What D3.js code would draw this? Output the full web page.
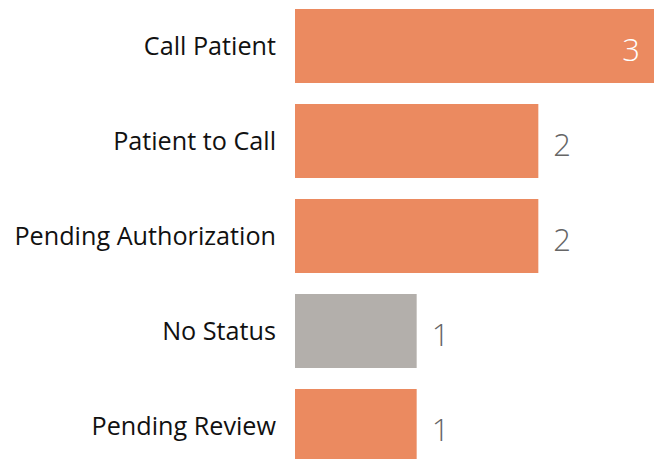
<!DOCTYPE html>
<html lang="en">
<head>
    <meta charset="UTF-8">
    <title>Status Counts</title>
    <style>
        body { margin: 0; background: #fff; }
        svg { display: block; }
        .cat { font-family: "Open Sans", "Noto Sans", sans-serif; fill: #111; }
        .val { font-family: "Open Sans", "Noto Sans", sans-serif; }
    </style>
</head>
<body>
    <svg id="chart" width="654" height="459"></svg>
    <script src="https://d3js.org/d3.v7.min.js"></script>
    <script>
        const categories = ['Call Patient', 'Patient to Call', 'Pending Authorization', 'No Status', 'Pending Review'];
        const counts = [3, 2, 2, 1, 1];
        const barColors = ['#EB8A60', '#EB8A60', '#EB8A60', '#B3AFAB', '#EB8A60'];

        const data = categories.map((c, i) => ({ name: c, value: counts[i], color: barColors[i] }));

        const svg = d3.select('#chart');

        const y = d3.scaleBand()
            .domain(categories)
            .range([9, 463])
            .paddingInner(21 / 95)
            .paddingOuter(0);

        const x = d3.scaleLinear()
            .domain([0, 3])
            .range([295, 660]);

        svg.selectAll('.bar')
            .data(data)
            .join('rect')
            .attr('class', 'bar')
            .attr('x', x(0))
            .attr('y', d => y(d.name))
            .attr('width', d => x(d.value) - x(0))
            .attr('height', y.bandwidth())
            .attr('fill', d => d.color);

        svg.selectAll('.cat')
            .data(data)
            .join('text')
            .attr('class', 'cat')
            .attr('x', 276)
            .attr('y', d => y(d.name) + y.bandwidth() / 2 + 9)
            .attr('text-anchor', 'end')
            .attr('font-size', 25.2)
            .text(d => d.name);

        // biggest bar runs off the edge, so its label sits inside
        const maxVal = d3.max(counts);
        svg.selectAll('.val')
            .data(data)
            .join('text')
            .attr('class', 'val')
            .attr('x', d => d.value === maxVal ? x(d.value) - 20 : x(d.value) + 15)
            .attr('y', d => y(d.name) + y.bandwidth() / 2 + 15)
            .attr('text-anchor', d => d.value === maxVal ? 'end' : 'start')
            .attr('font-size', 31)
            .attr('font-weight', 300)
            .attr('fill', d => d.value === maxVal ? '#fff' : '#666')
            .text(d => d.value);
    </script>
</body>
</html>
